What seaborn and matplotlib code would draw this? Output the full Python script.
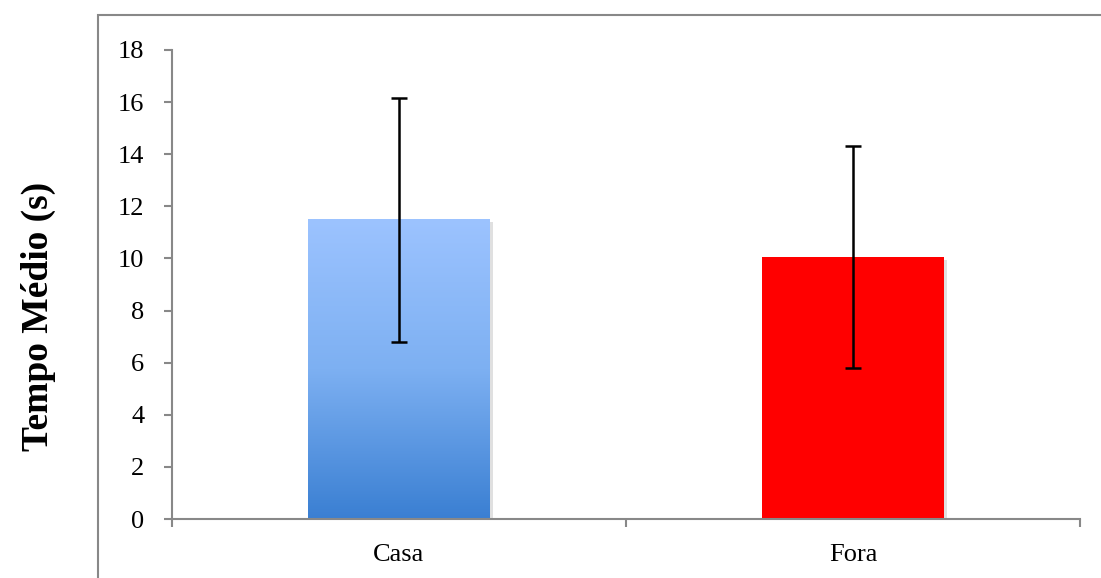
import numpy as np
import pandas as pd
import matplotlib
matplotlib.use("Agg")
import matplotlib.pyplot as plt
import matplotlib.patheffects as pe
from matplotlib.patches import Rectangle
from matplotlib.colors import LinearSegmentedColormap
import seaborn as sns

categories = ["Casa", "Fora"]
means = [11.5, 10.05]
err_low = [6.8, 5.8]
err_high = [16.15, 14.3]
bar_colors = ["#9CC3FF", "#FF0000"]
y_ticks = [0, 2, 4, 6, 8, 10, 12, 14, 16, 18]
y_label = "Tempo Médio (s)"

sns.set_theme(style="white")
plt.rcParams["font.family"] = ["Liberation Serif", "DejaVu Serif"]
plt.rcParams["text.color"] = "black"
plt.rcParams["axes.labelcolor"] = "black"

fig = plt.figure(figsize=(11.01, 5.78), dpi=100)
ax = fig.add_axes([172/1101, 1-519/578, (1080-172)/1101, (519-50)/578])

df = pd.DataFrame({"cat": categories, "val": means})
sns.barplot(data=df, x="cat", y="val", hue="cat", palette=bar_colors,
            width=0.4, legend=False, ax=ax, saturation=1, errorbar=None)

cmap = LinearSegmentedColormap.from_list("g", ["#3A7FD2", "#7DB0F2", "#9CC3FF"])
for i, p in enumerate(ax.patches):
    p.set_edgecolor("none")
    p.set_path_effects([pe.SimplePatchShadow(offset=(2, -2), shadow_rgbFace="#999999", alpha=0.3), pe.Normal()])
    p.set_zorder(2)
    if i == 0:
        x0, w, h = p.get_x(), p.get_width(), p.get_height()
        grad = np.linspace(0, 1, 256).reshape(-1, 1)
        im = ax.imshow(grad, cmap=cmap, origin="lower", aspect="auto",
                       extent=[x0, x0 + w, 0, h], zorder=2.5)
        im.set_clip_path(p)

xs = np.arange(len(categories))
means_a = np.array(means)
yerr = np.vstack([means_a - np.array(err_low), np.array(err_high) - means_a])
ax.errorbar(xs, means_a, yerr=yerr, fmt="none", ecolor="black",
            elinewidth=1.8, capsize=5.8, capthick=1.8, zorder=4)

ax.set_xlim(-0.5, len(categories) - 0.5)
ax.set_ylim(0, 18)
ax.set_yticks(y_ticks)
ax.set_yticklabels([str(t) for t in y_ticks], fontsize=19)
ax.set_xticks(xs)
ax.set_xticklabels(categories, fontsize=19)
ax.set_xticks(np.arange(-0.5, len(categories)), minor=True)
ax.tick_params(axis="x", which="major", length=0, pad=18, labelcolor="black")
ax.tick_params(axis="x", which="minor", length=6, width=1.5, color="#888888", direction="out", bottom=True)
ax.tick_params(axis="y", which="major", length=6, width=1.5, color="#888888", direction="out", left=True, pad=14, labelcolor="black")
ax.set_xlabel("")
ax.set_ylabel(y_label, fontsize=27, fontweight="bold", va="center", color="black")
ax.yaxis.set_label_coords(-0.1476, 0.431)

for s in ["top", "right"]:
    ax.spines[s].set_visible(False)
for s in ["left", "bottom"]:
    ax.spines[s].set_color("#888888")
    ax.spines[s].set_linewidth(1.5)

frame = Rectangle((98/1101, -0.1), 1.2, 1.1 - 15/578, transform=fig.transFigure,
                  fill=False, edgecolor="#888888", linewidth=1.5)
fig.patches.append(frame)

fig.savefig("out.png", dpi=100)
